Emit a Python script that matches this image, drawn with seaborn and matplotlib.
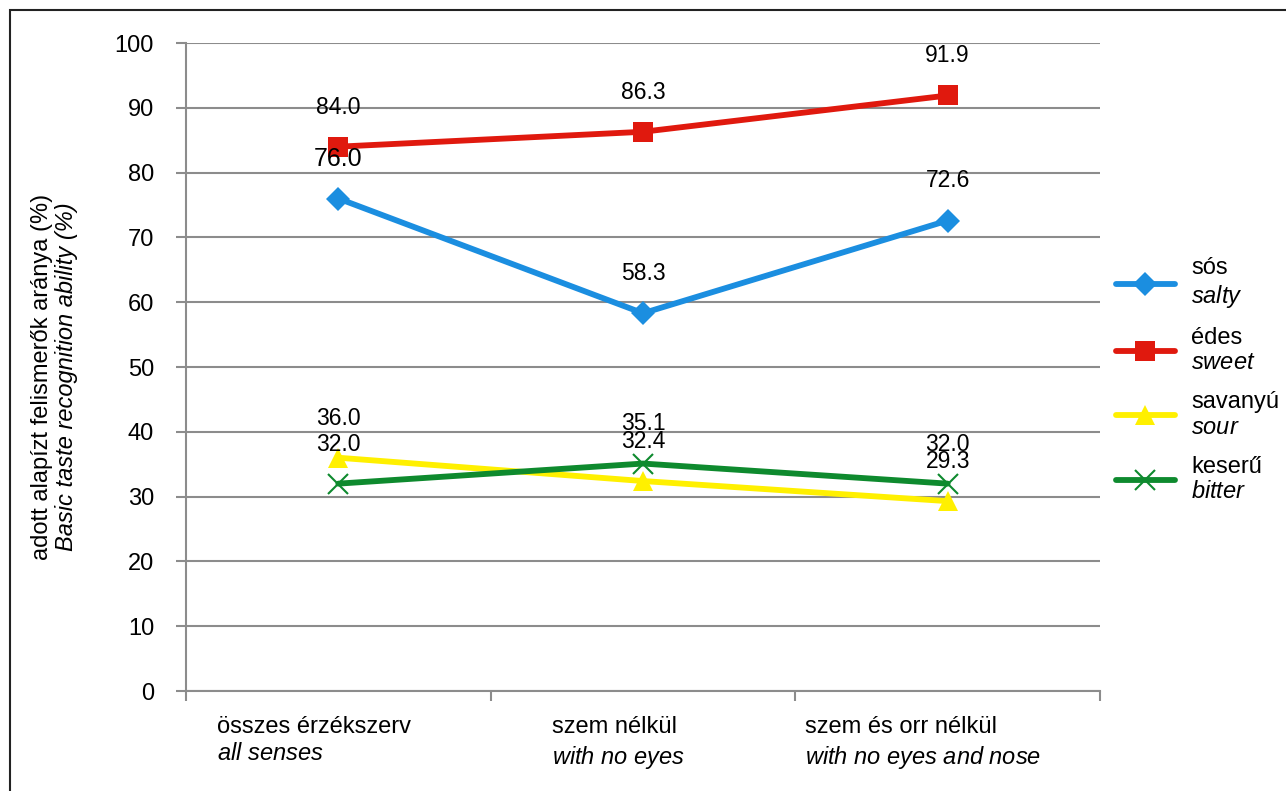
import pandas as pd
import matplotlib.pyplot as plt
import seaborn as sns
from matplotlib.patches import Rectangle
from matplotlib.lines import Line2D

sns.set_theme(style="white")
plt.rcParams['font.family'] = ['Liberation Sans', 'DejaVu Sans']
plt.rcParams['mathtext.fontset'] = 'custom'
plt.rcParams['mathtext.rm'] = 'Liberation Sans'
plt.rcParams['mathtext.it'] = 'Liberation Sans:italic'
plt.rcParams['text.color'] = 'black'

# categories (x axis)
conditions_hu = ["összes érzékszerv", "szem nélkül", "szem és orr nélkül"]
conditions_en = ["all senses", "with no eyes", "with no eyes and nose"]

# series
tastes_hu = ["sós", "édes", "savanyú", "keserű"]
tastes_en = ["salty", "sweet", "sour", "bitter"]
salty = [76.0, 58.3, 72.6]
sweet = [84.0, 86.3, 91.9]
sour = [36.0, 32.4, 29.3]
bitter = [32.0, 35.1, 32.0]

colors = ["#1B8EE0", "#E0190E", "#FFF000", "#0E8A2E"]
markers = ["D", "s", "^", "x"]
msizes = [12, 14, 15, 14]
FS = 17

rows = []
for name, vals in zip(tastes_en, [salty, sweet, sour, bitter]):
    for i, v in enumerate(vals):
        rows.append({"taste": name, "pos": i, "value": v})
df = pd.DataFrame(rows)

fig = plt.figure(figsize=(12.86, 7.91), dpi=100)
ax = fig.add_axes([186 / 1286, 1 - 691 / 791, 914 / 1286, 648 / 791])

for k, name in enumerate(tastes_en):
    sub = df[df["taste"] == name]
    sns.lineplot(data=sub, x="pos", y="value", ax=ax, color=colors[k],
                 marker=markers[k], markersize=msizes[k], linewidth=4.2,
                 markeredgewidth=1.5 if markers[k] == "x" else 0,
                 markeredgecolor=colors[k], legend=False, zorder=3 + k)

# data labels
for k, vals in enumerate([salty, sweet, sour, bitter]):
    for i, v in enumerate(vals):
        size = 18 if (k == 0 and i == 0) else 16.5
        ax.annotate(f"{v:.1f}", (i, v), xytext=(0, 28.5), textcoords="offset points",
                    ha="center", va="center", fontsize=size, color="black", zorder=10)

ax.set_xlim(-0.5, 2.5)
ax.set_ylim(0, 100)
ax.set_yticks(range(0, 101, 10))
ax.set_xticks([-0.5, 0.5, 1.5, 2.5])
ax.set_xticklabels([])
ax.yaxis.grid(True, color="#8C8C8C", linewidth=1.5)
ax.set_axisbelow(True)
for s in ["top", "right"]:
    ax.spines[s].set_visible(False)
for s in ["left", "bottom"]:
    ax.spines[s].set_color("#8C8C8C")
    ax.spines[s].set_linewidth(1.5)
ax.tick_params(axis="y", length=7, width=1.5, color="#8C8C8C", labelsize=FS,
               labelcolor="black", pad=16, left=True)
ax.tick_params(axis="x", length=7, width=1.5, color="#8C8C8C", bottom=True, direction="out")
ax.set_xlabel("")
ax.set_ylabel("")

# category labels (two lines, second italic)
for i, (hu, en) in enumerate(zip(conditions_hu, conditions_en)):
    en_math = "$\\mathit{" + en.replace(" ", "\\ ") + "}$"
    ax.text(i - 0.08, -3.9, hu + "\n" + en_math, ha="center", va="top",
            multialignment="left", fontsize=FS, linespacing=1.3)

# y axis label (two lines)
fig.text(42 / 1286, 1 - 377 / 791, "adott alapízt felismerők aránya (%)",
         rotation=90, ha="center", va="center", fontsize=FS)
fig.text(67 / 1286, 1 - 377 / 791, "Basic taste recognition ability (%)",
         rotation=90, ha="center", va="center", fontsize=FS, style="italic")

# legend
handles = [Line2D([], [], color=colors[k], marker=markers[k], markersize=msizes[k],
                  linewidth=4.2, markeredgewidth=1.5 if markers[k] == "x" else 0,
                  markeredgecolor=colors[k]) for k in range(4)]
labels = [hu + "\n$\\mathit{" + en + "}$" for hu, en in zip(tastes_hu, tastes_en)]
ax.legend(handles, labels, loc="center left", bbox_to_anchor=(0.994, 0.48),
          frameon=False, fontsize=FS, handlelength=2.5, labelspacing=0.72,
          handletextpad=0.7)

# outer frame
fig.patches.append(Rectangle((10 / 1286, -0.1), 1.2, 1 - 10 / 791 + 0.1,
                             transform=fig.transFigure, fill=False,
                             edgecolor="#222222", linewidth=1.5))

fig.savefig("out.png", dpi=100)
